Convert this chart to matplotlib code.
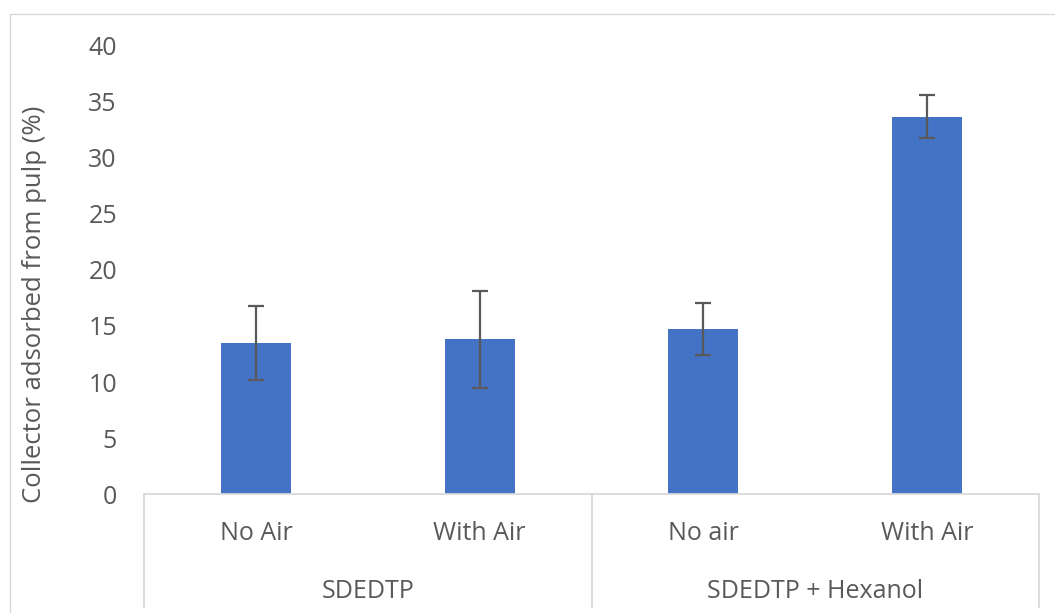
import matplotlib
matplotlib.use("Agg")
import matplotlib.pyplot as plt
import matplotlib.transforms as mtransforms
from matplotlib.lines import Line2D
import numpy as np

# Data
conditions = ["No Air", "With Air", "No air", "With Air"]
groups = ["SDEDTP", "SDEDTP + Hexanol"]
group_sizes = [2, 2]
adsorbed = [13.5, 13.8, 14.75, 33.7]
adsorbed_err = [3.3, 4.3, 2.3, 1.9]
y_ticks = [0, 5, 10, 15, 20, 25, 30, 35, 40]
y_label = "Collector adsorbed from pulp (%)"

BAR = "#4472C4"
TEXT = "#595959"
GRID = "#D9D9D9"
W, H = 1055, 613
FS = 18

plt.rcParams["font.family"] = ["Open Sans", "DejaVu Sans"]

fig = plt.figure(figsize=(W / 100, H / 100), dpi=100)
ax = fig.add_axes([144 / W, (H - 494) / H, (1039 - 144) / W, (494 - 46) / H])

x = np.arange(len(conditions))
ax.bar(x, adsorbed, width=0.313, color=BAR, zorder=2)
ax.errorbar(x, adsorbed, yerr=adsorbed_err, fmt="none", ecolor=TEXT,
            elinewidth=1.6, capsize=6, capthick=1.6, zorder=3)

ax.set_xlim(-0.5, len(conditions) - 0.5)
ax.set_ylim(0, 40)
ax.set_yticks(y_ticks)
ax.set_yticklabels([str(t) for t in y_ticks])
ax.tick_params(axis="y", length=0, pad=19.5, labelsize=FS, labelcolor=TEXT)
ax.set_xticks([])

for side in ("top", "right", "left"):
    ax.spines[side].set_visible(False)
ax.spines["bottom"].set_color(GRID)
ax.spines["bottom"].set_linewidth(1.3)

# Two-level category axis
trans = mtransforms.blended_transform_factory(ax.transData, ax.transAxes)
sep_bottom = -(607 - 494) / (494 - 46)
edges = [-0.5]
for n in group_sizes:
    edges.append(edges[-1] + n)
for e in edges:
    ax.add_line(Line2D([e, e], [0, sep_bottom], transform=trans, color=GRID,
                       lw=1.3, clip_on=False))

for xi, name in zip(x, conditions):
    ax.text(xi, -(534 - 494) / 448, name, transform=trans, ha="center",
            va="center", fontsize=FS, color=TEXT)
for i, g in enumerate(groups):
    center = (edges[i] + edges[i + 1]) / 2
    ax.text(center, -(591 - 494) / 448, g, transform=trans, ha="center",
            va="center", fontsize=FS, color=TEXT)

fig.text(35 / W, (H - 304) / H, y_label, rotation=90, ha="center",
         va="center", fontsize=18.5, color=TEXT)

# Chart area border
fig.add_artist(Line2D([10 / W, 10 / W], [0, (H - 14) / H], color=GRID, lw=1.0,
                      transform=fig.transFigure))
fig.add_artist(Line2D([10 / W, 1], [(H - 14) / H, (H - 14) / H], color=GRID,
                      lw=1.0, transform=fig.transFigure))

fig.savefig("out.png", dpi=100, facecolor="white")
